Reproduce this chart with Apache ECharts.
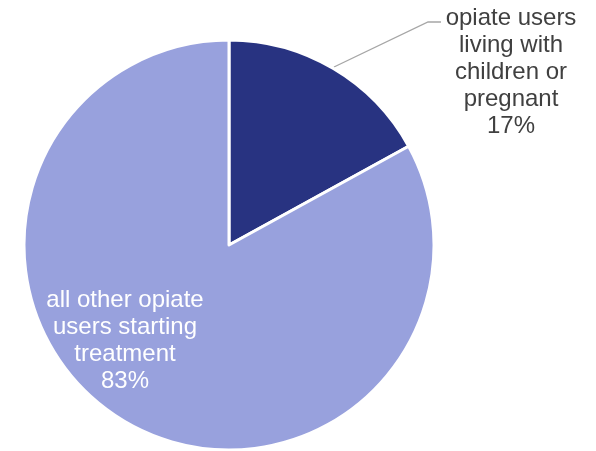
<!DOCTYPE html>
<html>
<head>
<meta charset="utf-8">
<script src="https://cdn.jsdelivr.net/npm/echarts@6/dist/echarts.min.js"></script>
<style>html,body{margin:0;padding:0;background:#fff}#c{width:596px;height:451px}</style>
</head>
<body>
<div id="c"></div>
<script>
var categories = ['opiate users\nliving with\nchildren or\npregnant', 'all other opiate\nusers starting\ntreatment'];
var values = [17, 83];
var colors = ['#283381', '#98A1DD'];

var chart = echarts.init(document.getElementById('c'), null, {renderer: 'canvas'});
chart.setOption({
  animation: false,
  series: [{
    type: 'pie',
    center: [229, 245],
    radius: 205,
    startAngle: 90,
    clockwise: true,
    itemStyle: {borderColor: '#ffffff', borderWidth: 3},
    data: categories.map(function (c, i) {
      return {
        name: c,
        value: values[i],
        itemStyle: {color: colors[i]},
        label: i === 0 ? {position: 'outside', color: '#404040'} : {position: 'inside', color: '#ffffff'},
        labelLine: i === 0 ? {show: true, lineStyle: {color: '#A6A6A6', width: 1.3}} : {show: false}
      };
    }),
    label: {
      show: true,
      formatter: '{b}\n{d}%',
      fontFamily: 'Liberation Sans, Arial, sans-serif',
      fontSize: 24,
      lineHeight: 27,
      align: 'center'
    },
    labelLayout: function (p) {
      if (p.dataIndex === 0) {
        return {x: 511, y: 72, align: 'center', verticalAlign: 'middle',
          labelLinePoints: [[334, 67], [428, 22], [441, 22]]};
      }
      return {x: 125, y: 341, align: 'center', verticalAlign: 'middle'};
    }
  }]
});
</script>
</body>
</html>
